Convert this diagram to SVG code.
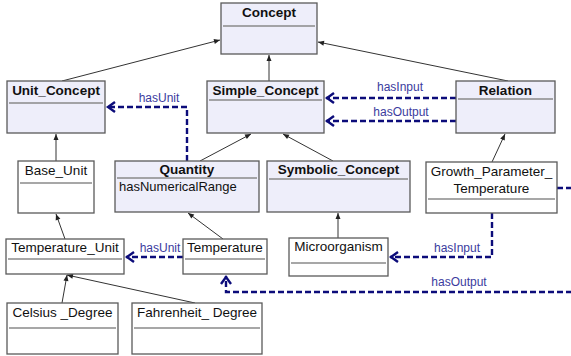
<svg xmlns="http://www.w3.org/2000/svg" width="571" height="356" viewBox="0 0 571 356">
<style>
.box{stroke:#5a5a5a;stroke-width:1.3}
.lav{fill:#eeeefa}
.wht{fill:#ffffff}
.div{stroke:#8a8a8a;stroke-width:1.3}
.t{font-family:"Liberation Sans",Arial,sans-serif;font-size:13.5px;fill:#111;text-anchor:middle}
.b{font-weight:bold;font-size:13.5px}
.a{text-anchor:start;font-size:13px}
.inh{fill:none;stroke:#333;stroke-width:1}
.rel{fill:none;stroke:#0c0c7a;stroke-width:2.4;stroke-dasharray:6,3}
.lbl{font-family:"Liberation Sans",Arial,sans-serif;font-size:12px;fill:#3b3b9e;text-anchor:middle}
</style>
<defs>
<marker id="ah" markerUnits="userSpaceOnUse" orient="auto" markerWidth="10" markerHeight="10" viewBox="-8 -5 10 10" refX="0" refY="0" overflow="visible">
<path d="M-6,-2.5 L0,0 L-6,2.5 z" fill="#222"/>
</marker>
<marker id="av" markerUnits="userSpaceOnUse" orient="auto" markerWidth="14" markerHeight="14" viewBox="-10 -7 14 14" refX="0" refY="0" overflow="visible">
<path d="M-8,-5 L-1,0 L-8,5" fill="none" stroke="#0c0c7a" stroke-width="2.4"/>
</marker>
</defs>

<g id="connectors">
<line class="inh" x1="62" y1="81" x2="220" y2="40" marker-end="url(#ah)"/>
<line class="inh" x1="269" y1="81" x2="269" y2="55" marker-end="url(#ah)"/>
<line class="inh" x1="508" y1="81" x2="318" y2="42" marker-end="url(#ah)"/>
<line class="inh" x1="200" y1="161" x2="251" y2="134" marker-end="url(#ah)"/>
<line class="inh" x1="333" y1="161" x2="283" y2="134" marker-end="url(#ah)"/>
<line class="inh" x1="56" y1="161" x2="56" y2="134" marker-end="url(#ah)"/>
<line class="inh" x1="492" y1="162" x2="505" y2="134" marker-end="url(#ah)"/>
<line class="inh" x1="65" y1="239" x2="56" y2="214" marker-end="url(#ah)"/>
<line class="inh" x1="223" y1="239" x2="188" y2="213" marker-end="url(#ah)"/>
<line class="inh" x1="338" y1="238" x2="338" y2="213" marker-end="url(#ah)"/>
<line class="inh" x1="62" y1="303" x2="67" y2="275" marker-end="url(#ah)"/>
<line class="inh" x1="195" y1="303" x2="67" y2="275" marker-end="url(#ah)"/>

<path class="rel" d="M187,161 V107 H107" marker-end="url(#av)"/>
<text class="lbl" x="159" y="102">hasUnit</text>
<path class="rel" d="M456,98 H326" marker-end="url(#av)"/>
<text class="lbl" x="400" y="91">hasInput</text>
<path class="rel" d="M456,121 H326" marker-end="url(#av)"/>
<text class="lbl" x="401" y="116">hasOutput</text>
<path class="rel" d="M183,257 H126" marker-end="url(#av)"/>
<text class="lbl" x="160" y="252">hasUnit</text>
<path class="rel" d="M492,213 V257 H390" marker-end="url(#av)"/>
<text class="lbl" x="457" y="252">hasInput</text>
<path class="rel" d="M557,188 H580 V292 H226 V276" marker-end="url(#av)"/>
<text class="lbl" x="459" y="286">hasOutput</text>
</g>

<g id="Concept">
<rect class="box lav" x="221" y="3" width="96" height="51"/>
<line class="div" x1="223" y1="26" x2="315" y2="26"/>
<text class="t b" x="269" y="17">Concept</text>
</g>
<g id="Unit_Concept">
<rect class="box lav" x="7" y="81" width="98" height="52"/>
<line class="div" x1="9" y1="103" x2="103" y2="103"/>
<text class="t b" x="56" y="95">Unit_Concept</text>
</g>
<g id="Simple_Concept">
<rect class="box lav" x="207" y="81" width="117" height="52"/>
<line class="div" x1="209" y1="100" x2="322" y2="100"/>
<text class="t b" x="265.5" y="95">Simple_Concept</text>
</g>
<g id="Relation">
<rect class="box lav" x="456" y="81" width="99" height="52"/>
<line class="div" x1="458" y1="99" x2="553" y2="99"/>
<text class="t b" x="505.5" y="95">Relation</text>
</g>
<g id="Quantity">
<rect class="box lav" x="115" y="161" width="144" height="51"/>
<line class="div" x1="117" y1="178" x2="257" y2="178"/>
<text class="t b" x="187" y="174">Quantity</text>
<text class="t a" x="119" y="191">hasNumericalRange</text>
</g>
<g id="Symbolic_Concept">
<rect class="box lav" x="267" y="161" width="143" height="51"/>
<line class="div" x1="269" y1="179" x2="408" y2="179"/>
<text class="t b" x="338.5" y="174">Symbolic_Concept</text>
</g>
<g id="Base_Unit">
<rect class="box wht" x="18" y="161" width="76" height="52"/>
<line class="div" x1="20" y1="183" x2="92" y2="183"/>
<text class="t" x="56" y="175">Base_Unit</text>
</g>
<g id="Growth_Parameter_Temperature">
<rect class="box wht" x="426" y="162" width="131" height="51"/>
<line class="div" x1="428" y1="199" x2="555" y2="199"/>
<text class="t" x="491.5" y="176">Growth_Parameter_</text>
<text class="t" x="491.5" y="193">Temperature</text>
</g>
<g id="Temperature_Unit">
<rect class="box wht" x="6" y="239" width="118" height="35"/>
<line class="div" x1="8" y1="259" x2="122" y2="259"/>
<text class="t" x="65" y="252">Temperature_Unit</text>
</g>
<g id="Temperature">
<rect class="box wht" x="183" y="239" width="84" height="35"/>
<line class="div" x1="185" y1="259" x2="265" y2="259"/>
<text class="t" x="225" y="252">Temperature</text>
</g>
<g id="Microorganism">
<rect class="box wht" x="289" y="238" width="99" height="38"/>
<line class="div" x1="291" y1="263" x2="386" y2="263"/>
<text class="t" x="338.5" y="251">Microorganism</text>
</g>
<g id="Celsius_Degree">
<rect class="box wht" x="7" y="303" width="111" height="51"/>
<line class="div" x1="9" y1="328" x2="116" y2="328"/>
<text class="t" x="62.5" y="317">Celsius _Degree</text>
</g>
<g id="Fahrenheit_Degree">
<rect class="box wht" x="132" y="303" width="130" height="51"/>
<line class="div" x1="134" y1="328" x2="260" y2="328"/>
<text class="t" x="197" y="317">Fahrenheit_ Degree</text>
</g>
</svg>
